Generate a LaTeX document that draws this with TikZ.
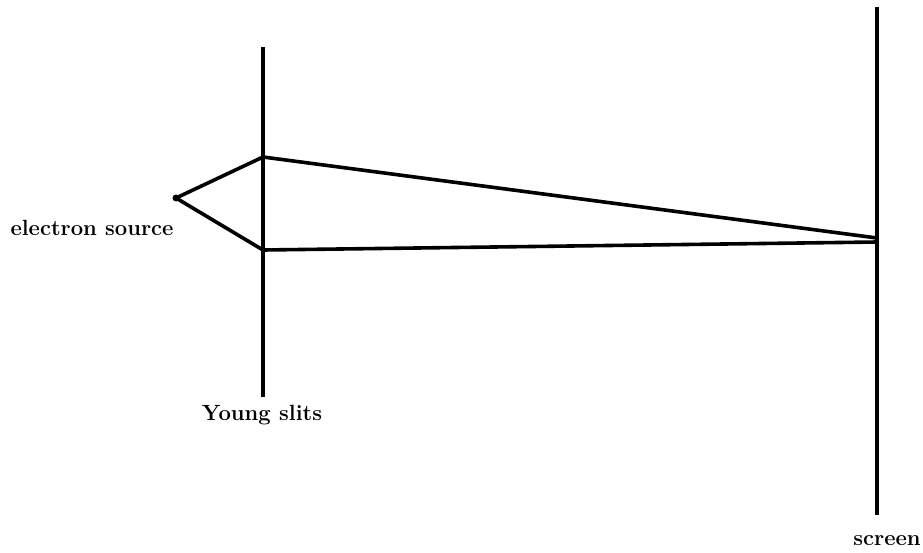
\documentclass[tikz,border=0pt]{standalone}
\usepackage{fontspec}
\usepackage{tikz}
\usetikzlibrary{positioning}

\begin{document}
\begin{tikzpicture}[x=1pt,y=-1pt]
    \tikzset{wall/.style={line width=4pt},
             ray/.style={line width=3.6pt,line join=round},
             lbl/.style={font=\fontsize{22}{26}\selectfont\bfseries,anchor=base,inner sep=0pt}}
    \useasboundingbox (0,0) rectangle (923,552);
    % barrier with the two slits, and the screen
    \coordinate (slitsTop) at (263,47);
    \coordinate (slitsBot) at (263,397);
    \coordinate (slitA) at (263,157);
    \coordinate (slitB) at (263,250);
    \coordinate (screenTop) at (877,7);
    \coordinate (screenBot) at (877,515);
    \coordinate (hitA) at (877,238);
    \coordinate (hitB) at (877,242);
    \node[circle,fill,inner sep=0pt,minimum size=7pt] (src) at (176,198) {};
    \draw[wall] (slitsTop) -- (slitsBot);
    \draw[wall] (screenTop) -- (screenBot);
    \draw[ray] (src.center) -- (slitA) -- (hitA);
    \draw[ray] (src.center) -- (slitB) -- (hitB);
    \node[lbl] (srcLabel) at (92,235) {electron source};
    \node[lbl] (slitsLabel) at (262,420) {Young slits};
    \node[lbl] (screenLabel) at (887,545) {screen};
  \end{tikzpicture}
\end{document}
